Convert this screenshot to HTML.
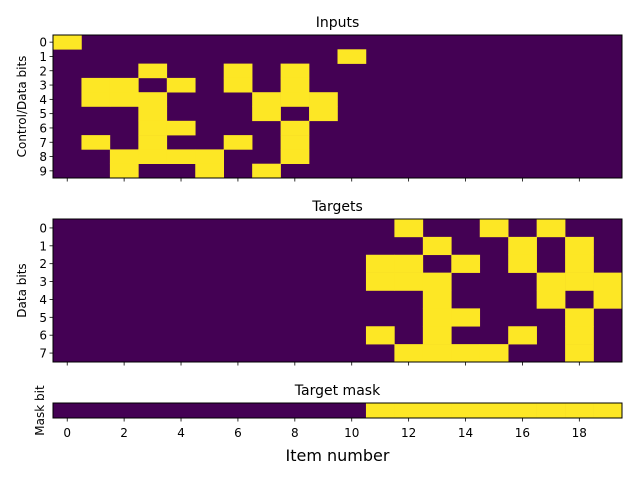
<!DOCTYPE html>
<html><head><meta charset="utf-8"><style>
body{margin:0;background:#fff}
svg{display:block;font-family:"DejaVu Sans","Liberation Sans",sans-serif}
</style></head><body>
<svg id="chart" width="640" height="480" viewBox="0 0 640 480"></svg>
<script>
const items = [0,1,2,3,4,5,6,7,8,9,10,11,12,13,14,15,16,17,18,19];
const xTicks = [0,2,4,6,8,10,12,14,16,18];
// Input bits: list of "on" columns per row 0..9
const inputOn = [[0],[10],[3,6,8],[1,2,4,6,8],[1,2,3,7,8,9],[3,7,9],[3,4,8],[1,3,6,8],[2,3,4,5,8],[2,5,7]];
const targetOn = [[12,15,17],[13,16,18],[11,12,14,16,18],[11,12,13,17,18,19],[13,17,19],[13,14,18],[11,13,16,18],[12,13,14,15,18]];
const maskOn = [11,12,13,14,15,16,17,18,19];

const NS="http://www.w3.org/2000/svg";
const svg=document.getElementById('chart');
const X0=53,X1=622;
const cw=(X1-X0)/items.length;
const xPos=i=>X0+i*cw;
const PURPLE="#440154",YELLOW="#fde725";
function mk(tag,attrs,text){const e=document.createElementNS(NS,tag);for(const k in attrs)e.setAttribute(k,attrs[k]);if(text!==undefined)e.textContent=text;svg.appendChild(e);return e;}

function panel(name,title,ylabel,top,bottom,rows,showX,ylabelX){
  const nr=rows.length, rh=(bottom-top)/nr;
  const bg=mk('rect',{x:X0,y:top,width:X1-X0,height:bottom-top,fill:PURPLE});
  
  
  rows.forEach((on,r)=>{
    on.forEach(c=>{
      const cell=mk('rect',{x:xPos(c),y:top+r*rh,width:cw+0.3,height:rh+0.3,fill:YELLOW});
      
      
    });
    if(nr>1){
      const yc=top+(r+0.5)*rh;
      const tk=mk('line',{x1:X0-3.5,x2:X0,y1:yc,y2:yc,stroke:'#000','stroke-width':0.8});
      
      
      const tl=mk('text',{x:X0-6,y:yc+4.5,'text-anchor':'end','font-size':12,fill:'#000'},String(r));
      
      
    }
  });
  const fr=mk('rect',{x:X0,y:top,width:X1-X0,height:bottom-top,fill:'none',stroke:'#000','stroke-width':1});
  
  
  xTicks.forEach(t=>{
    const xc=xPos(t)+cw/2;
    const tk=mk('line',{x1:xc,x2:xc,y1:bottom,y2:bottom+3.5,stroke:'#000','stroke-width':0.8});
    
    
    if(showX){
      const tl=mk('text',{x:xc,y:bottom+19,'text-anchor':'middle','font-size':12,fill:'#000'},String(t));
      
      
    }
  });
  const ti=mk('text',{x:(X0+X1)/2,y:top-8,'text-anchor':'middle','font-size':14,fill:'#000'},title);
  
  
  const yc=(top+bottom)/2;
  const yl=mk('text',{x:ylabelX,y:yc,'text-anchor':'middle','font-size':12,fill:'#000',transform:`rotate(-90 ${ylabelX} ${yc})`},ylabel);
  
  
}
panel('inputs','Inputs','Control/Data bits',35,178,inputOn,false,26);
panel('targets','Targets','Data bits',219,362,targetOn,false,26);
panel('target-mask','Target mask','Mask bit',403,418,[maskOn],true,44);
const xt=mk('text',{x:(X0+X1)/2,y:461,'text-anchor':'middle','font-size':16,fill:'#000'},'Item number');


</script>
</body></html>
